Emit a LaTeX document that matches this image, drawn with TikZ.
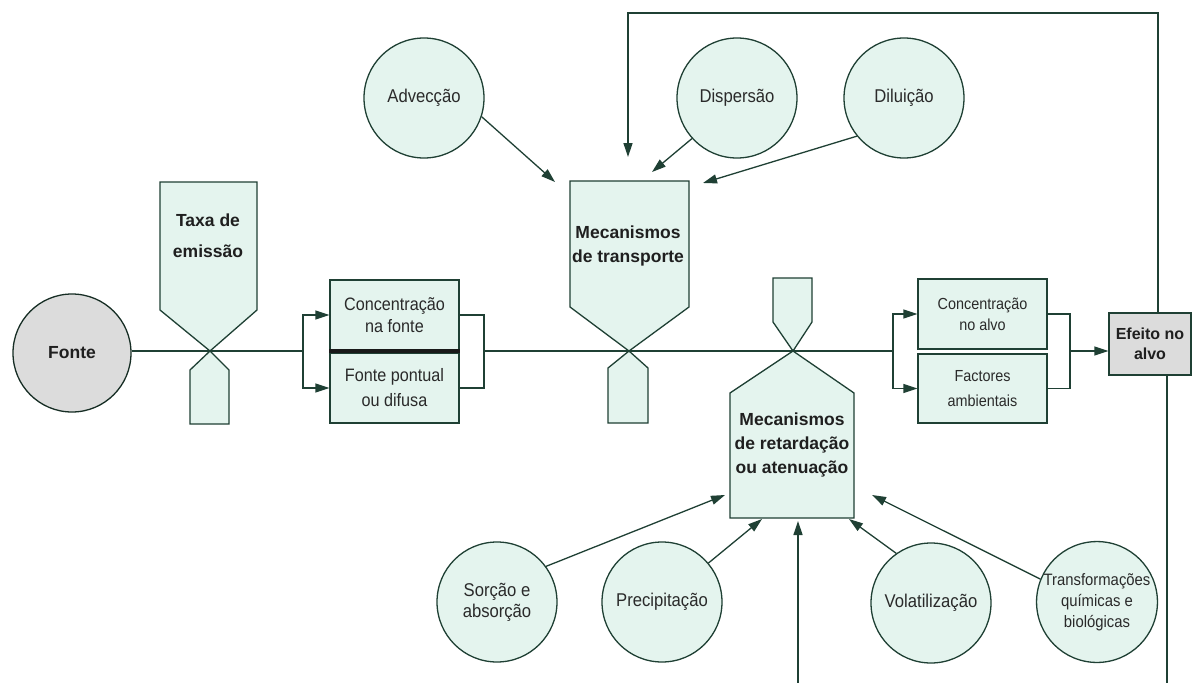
\documentclass[tikz,border=0pt]{standalone}
\usepackage{fontspec}
\setmainfont{Liberation Sans}
\newfontfamily\condfont{Liberation Sans}[FakeStretch=0.9]
\usetikzlibrary{arrows.meta}
\definecolor{ink}{HTML}{1F4034}
\definecolor{mint}{HTML}{E4F4EE}
\definecolor{greyfill}{HTML}{DCDCDC}
\definecolor{txt}{HTML}{2A2A2A}

\begin{document}
\begin{tikzpicture}[x=1pt,y=-1pt,
  conn/.style={draw=ink, line width=1.3pt},
  arr/.style={conn, -{Triangle[length=14pt,width=9pt]}},
  proc/.style={circle, draw=ink, line width=1.3pt, fill=mint, minimum size=120pt,
    inner sep=0pt, align=center, text=txt, font=\condfont\fontsize{18.5}{21}\selectfont},
  cell/.style={draw=ink, line width=1.3pt, fill=mint, inner sep=0pt, align=center,
    text=txt, minimum width=129pt, minimum height=70pt},
  valve/.style={draw=ink, line width=1.3pt, fill=mint, line join=miter},
  vlabel/.style={align=center, font=\bfseries\fontsize{17.5}{24}\selectfont, text=black!88},
]
\useasboundingbox (0,0) rectangle (1192,683);
\fill[white] (0,0) rectangle (1192,683);

% ---- valves on the main flow line
% emission rate
\draw[valve] (160,182) -- (160,310) -- (210,351) -- (257,310) -- (257,182) -- cycle;
\draw[valve] (210,351) -- (190,370) -- (190,424) -- (229,424) -- (229,370) -- cycle;
\node[vlabel, font=\bfseries\fontsize{17.5}{31}\selectfont] (taxa) at (208,236) {Taxa de\\emissão};
% transport
\draw[valve] (570,181) -- (570,307) -- (629,351) -- (689,307) -- (689,181) -- cycle;
\draw[valve] (629,351) -- (608,368) -- (608,423) -- (648,423) -- (648,368) -- cycle;
\node[vlabel] (transp) at (628,246) {Mecanismos\\de transporte};
% retardation / attenuation
\draw[valve] (773,278) -- (773,322) -- (793,351) -- (812,322) -- (812,278) -- cycle;
\draw[valve] (793,351) -- (730,393) -- (730,518) -- (854,518) -- (854,393) -- cycle;
\node[vlabel] (ret) at (792,445) {Mecanismos\\de retardação\\ou atenuação};

% ---- source and target
\node[circle, draw=ink!70!black, line width=1.3pt, fill=greyfill, minimum size=118pt,
  inner sep=0pt, font=\bfseries\fontsize{17.5}{20}\selectfont, text=black!88] (fonte) at (72,353) {Fonte};
\node[draw=ink, line width=1.3pt, fill=greyfill, minimum width=82pt, minimum height=62pt,
  inner sep=0pt, align=center, font=\bfseries\fontsize{16}{20}\selectfont, text=black!88]
  (ef) at (1150,344) {Efeito no\\alvo};

% ---- boxes
\node[cell, font=\condfont\fontsize{18}{22}\selectfont] (cf) at (394.5,315) {Concentração\\na fonte};
\node[cell, font=\condfont\fontsize{18}{25}\selectfont] (fp) at (394.5,388) {Fonte pontual\\ou difusa};
\draw[draw=black!90, line width=4pt] (cf.south west) -- (cf.south east);
\node[cell, font=\condfont\fontsize{16}{21}\selectfont] (ca) at (982.5,314) {Concentração\\no alvo};
\node[cell, minimum height=69pt, font=\condfont\fontsize{16}{25}\selectfont] (fa) at (982.5,388.5) {Factores\\ambientais};

% ---- process circles
\node[proc] (adv) at (424,98) {Advecção};
\node[proc] (disp) at (737,98) {Dispersão};
\node[proc] (dil) at (904,98) {Diluição};
\node[proc] (sor) at (497,602) {Sorção e\\absorção};
\node[proc] (prec) at (662,602) {Precipitação};
\node[proc] (vol) at (931,603) {Volatilização};
\node[proc, font=\condfont\fontsize{16.5}{21}\selectfont] (trf) at (1097,602) {Transformações\\químicas e\\biológicas};

% ---- main flow line
\coordinate (s1) at (303,351);
\coordinate (b1) at (484,351);
\coordinate (s2) at (893,351);
\coordinate (b2) at (1070,351);
\draw[conn] (fonte.east |- s1) -- (s1);
\draw[arr] (s1) |- (cf.west);
\draw[arr] (s1) |- (fp.west);
\draw[conn] (cf.east) -| (b1) |- (fp.east);
\draw[conn] (b1) -- (s2);
\draw[arr] (s2) |- (ca.west);
\draw[arr] (s2) |- (fa.west);
\draw[conn] (ca.east) -| (b2) |- (fa.east);
\draw[arr] (b2) -- (ef.west |- b2);

% ---- feedback loops from the target
\coordinate (fb1) at (1158,13);
\coordinate (fb2) at (628,13);
\coordinate (fbEnd) at (628,157);
\draw[arr] (ef.north -| fb1) -- (fb1) -- (fb2) -- (fbEnd);
\coordinate (lo1) at (1167,683);
\coordinate (lo2) at (798,683);
\coordinate (loEnd) at (798,521);
\draw[conn] (ef.south -| lo1) -- (lo1);
\draw[arr] (lo2) -- (loEnd);

% ---- transport processes
\coordinate (advEnd) at (555,182);
\coordinate (dispEnd) at (652,172);
\coordinate (dilEnd) at (703,183);
\draw[arr] (adv.-18) -- (advEnd);
\draw[arr] (disp.222) -- (dispEnd);
\draw[arr] (dil.219) -- (dilEnd);

% ---- retardation processes
\coordinate (sorEnd) at (725,495);
\coordinate (precEnd) at (762,519);
\coordinate (volEnd) at (849,519);
\coordinate (trfEnd) at (872,495);
\draw[arr] (sor.36) -- (sorEnd);
\draw[arr] (prec.40) -- (precEnd);
\draw[arr] (vol.125) -- (volEnd);
\draw[arr] (trf.158) -- (trfEnd);
\end{tikzpicture}
\end{document}
